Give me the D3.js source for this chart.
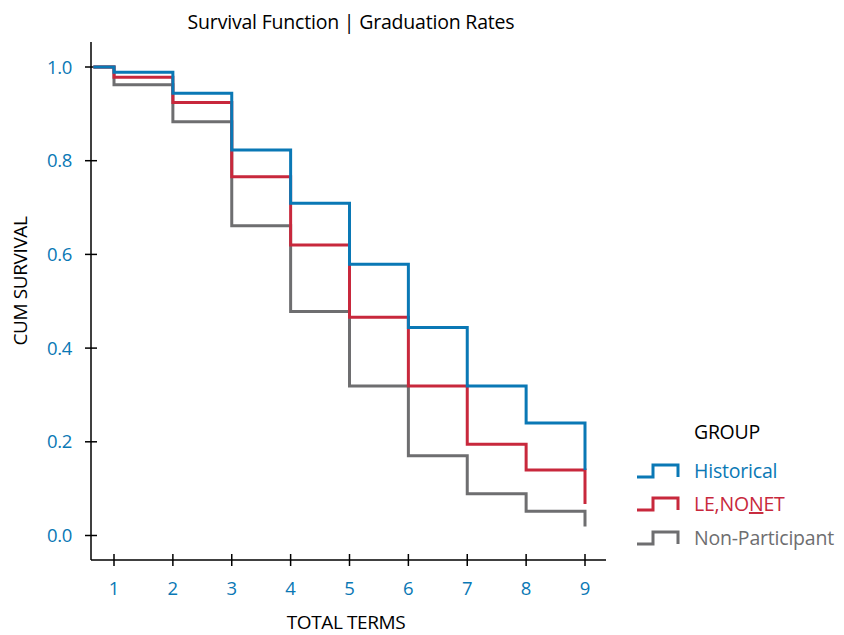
<!DOCTYPE html>
<html>
<head>
<meta charset="utf-8">
<script src="https://cdn.jsdelivr.net/npm/d3@7"></script>
<style>
  html, body { margin: 0; padding: 0; background: #fff; }
  svg { display: block; font-family: "Open Sans", "Noto Sans", sans-serif; }
</style>
</head>
<body>
<svg id="chart" width="844" height="635"></svg>
<script>
// Survival estimates per group at each term boundary
const terms = [0.65, 1, 2, 3, 4, 5, 6, 7, 8, 9];
const historical    = [1.0, 0.989, 0.944, 0.823, 0.709, 0.579, 0.444, 0.319, 0.240, 0.140];
const leNonet       = [1.0, 0.978, 0.924, 0.766, 0.620, 0.466, 0.319, 0.195, 0.140, 0.067];
const nonParticipant = [1.0, 0.962, 0.883, 0.661, 0.478, 0.319, 0.170, 0.089, 0.052, 0.019];

const xTicks = [1, 2, 3, 4, 5, 6, 7, 8, 9];
const yTicks = [0.0, 0.2, 0.4, 0.6, 0.8, 1.0];

const groupNames = ["Historical", "LE,NONET", "Non-Participant"];
const groupColors = ["#0a78b5", "#c8283c", "#6e6e70"];

const svg = d3.select("#chart");

const x = d3.scaleLinear().domain([1, 9]).range([114, 585]);
const y = d3.scaleLinear().domain([0, 1]).range([535.5, 67]);

const axisLeftX = 91, axisBottomY = 560;

// Axes lines
svg.append("line").attr("x1", axisLeftX).attr("x2", axisLeftX)
  .attr("y1", 42).attr("y2", axisBottomY)
  .attr("stroke", "#000").attr("stroke-width", 1.5);
svg.append("line").attr("x1", axisLeftX).attr("x2", 606)
  .attr("y1", axisBottomY).attr("y2", axisBottomY)
  .attr("stroke", "#000").attr("stroke-width", 1.5);

// Y ticks and labels
const yg = svg.append("g");
yTicks.forEach(v => {
  yg.append("line").attr("x1", axisLeftX - 6).attr("x2", axisLeftX + 6)
    .attr("y1", y(v)).attr("y2", y(v)).attr("stroke", "#000").attr("stroke-width", 1.5);
  yg.append("text").attr("x", 72).attr("y", y(v)).attr("dy", "0.36em")
    .attr("text-anchor", "end").attr("fill", "#0a78b5").attr("font-size", 18.5)
    .attr("letter-spacing", -0.3)
    .text(d3.format(".1f")(v));
});

// X ticks and labels
const xg = svg.append("g");
xTicks.forEach(v => {
  xg.append("line").attr("x1", x(v)).attr("x2", x(v))
    .attr("y1", axisBottomY - 6).attr("y2", axisBottomY + 6)
    .attr("stroke", "#000").attr("stroke-width", 1.5);
  xg.append("text").attr("x", x(v)).attr("y", 588).attr("dy", "0.36em")
    .attr("text-anchor", "middle").attr("fill", "#0a78b5").attr("font-size", 18.5)
    .text(v);
});

// Step curves (drawn grey, red, blue so blue sits on top)
const line = d3.line()
  .x(d => x(d[0])).y(d => y(d[1]))
  .curve(d3.curveStepAfter);

const seriesList = [historical, leNonet, nonParticipant];
[2, 1, 0].forEach(i => {
  const pts = terms.map((t, k) => [t, seriesList[i][k]]);
  svg.append("path").datum(pts)
    .attr("d", line)
    .attr("fill", "none")
    .attr("stroke", groupColors[i])
    .attr("stroke-width", 3);
});

// Titles
svg.append("text").attr("x", 351).attr("y", 22).attr("dy", "0.36em")
  .attr("text-anchor", "middle").attr("font-size", 19.5).attr("fill", "#000")
  .attr("letter-spacing", -0.2)
  .text("Survival Function | Graduation Rates");
svg.append("text").attr("x", 346).attr("y", 622).attr("dy", "0.36em")
  .attr("text-anchor", "middle").attr("font-size", 19).attr("fill", "#000")
  .attr("letter-spacing", -0.4)
  .text("TOTAL TERMS");
svg.append("text")
  .attr("transform", "translate(20,281) rotate(-90)")
  .attr("dy", "0.36em")
  .attr("text-anchor", "middle").attr("font-size", 19).attr("fill", "#000")
  .attr("letter-spacing", -0.4)
  .text("CUM SURVIVAL");

// Legend
const lg = svg.append("g");
lg.append("text").attr("x", 694).attr("y", 432).attr("dy", "0.36em")
  .attr("font-size", 19.5).attr("fill", "#000").attr("letter-spacing", -0.3).text("GROUP");
const legendY = [471, 504, 538];
groupNames.forEach((name, i) => {
  const cy = legendY[i];
  lg.append("path")
    .attr("d", `M637,${cy + 6}H653V${cy - 6}H678V${cy + 6}`)
    .attr("fill", "none").attr("stroke", groupColors[i]).attr("stroke-width", 3);
  const t = lg.append("text").attr("x", 694).attr("y", cy).attr("dy", "0.36em")
    .attr("font-size", 19.5).attr("fill", groupColors[i]).attr("letter-spacing", -0.2);
  if (name === "LE,NONET") {
    t.append("tspan").text("LE,NO");
    t.append("tspan").attr("text-decoration", "underline").text("N");
    t.append("tspan").text("ET");
  } else {
    t.text(name);
  }
});
</script>
</body>
</html>
